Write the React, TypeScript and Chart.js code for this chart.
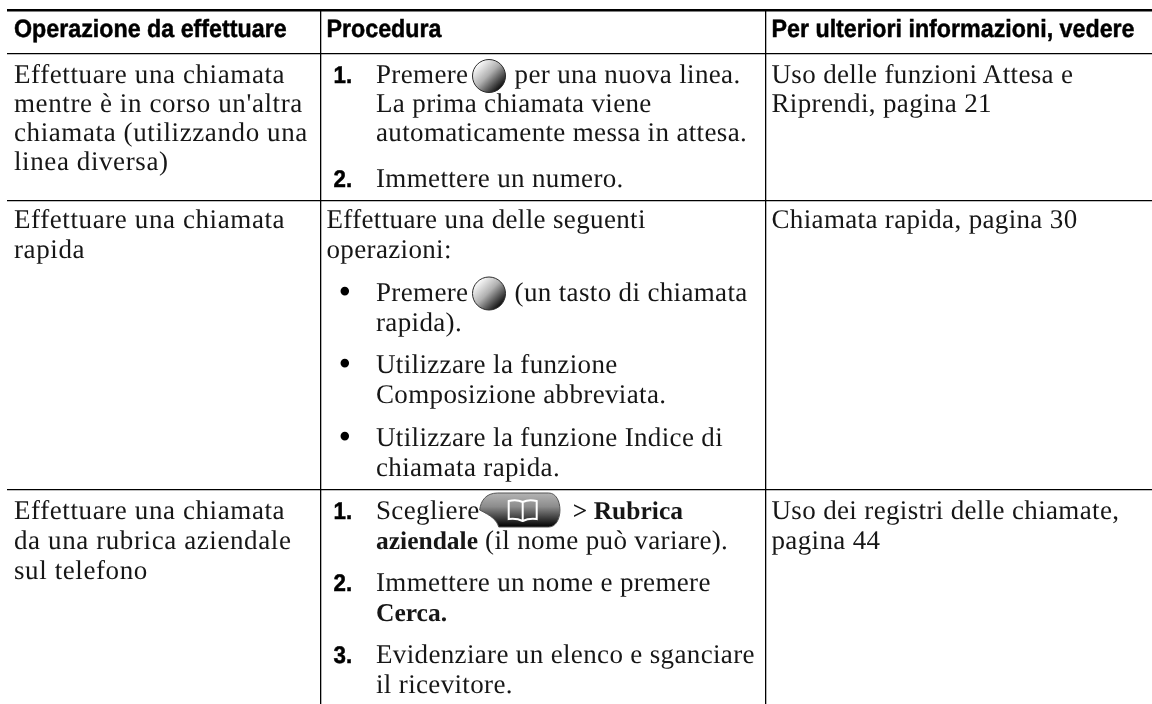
import React, { useEffect, useRef } from "react";
import { Chart, registerables } from "chart.js";

Chart.register(...registerables);

// ---- content -------------------------------------------------------------
const headers = ["Operazione da effettuare", "Procedura", "Per ulteriori informazioni, vedere"];

const operations = [
  ["Effettuare una chiamata", "mentre è in corso un'altra", "chiamata (utilizzando una", "linea diversa)"],
  ["Effettuare una chiamata", "rapida"],
  ["Effettuare una chiamata", "da una rubrica aziendale", "sul telefono"],
];

const references = [
  ["Uso delle funzioni Attesa e", "Riprendi, pagina 21"],
  ["Chiamata rapida, pagina 30"],
  ["Uso dei registri delle chiamate,", "pagina 44"],
];

// "{ball}" and "{book}" are the phone-key pictures, "*...*" is bold text
const procedureRow1 = [
  { marker: "1.", lines: ["Premere {ball} per una nuova linea.", "La prima chiamata viene", "automaticamente messa in attesa."] },
  { marker: "2.", lines: ["Immettere un numero."] },
];
const procedureRow2 = [
  { marker: "", lines: ["Effettuare una delle seguenti", "operazioni:"] },
  { marker: "•", lines: ["Premere {ball} (un tasto di chiamata", "rapida)."] },
  { marker: "•", lines: ["Utilizzare la funzione", "Composizione abbreviata."] },
  { marker: "•", lines: ["Utilizzare la funzione Indice di", "chiamata rapida."] },
];
const procedureRow3 = [
  { marker: "1.", lines: ["Scegliere {book} *> Rubrica*", "*aziendale* (il nome può variare)."] },
  { marker: "2.", lines: ["Immettere un nome e premere", "*Cerca.*"] },
  { marker: "3.", lines: ["Evidenziare un elenco e sganciare", "il ricevitore."] },
];

// ---- table geometry, fed to the chart's scales --------------------------------
const columnEdges = [320.5, 765.5];
const rowEdges = [10, 54, 201, 490];
const firstBaselineOffset = [29, 27, 29];
const rowLineStep = [29, 30, 30];
const rowBlockGap = [46, 42.5, 42];

const SERIF = '"Liberation Serif", serif';
const SANS = '"Liberation Sans", sans-serif';
const INK = "#161616";

function setSpacing(ctx: CanvasRenderingContext2D, px: number) {
  (ctx as any).letterSpacing = `${px}px`;
}

function drawCondensed(ctx: CanvasRenderingContext2D, text: string, x: number, y: number, size: number) {
  ctx.save();
  ctx.translate(x, y);
  ctx.scale(0.93, 1);
  ctx.font = `bold ${size}px ${SANS}`;
  ctx.fillStyle = "#000";
  ctx.strokeStyle = "#000";
  ctx.lineWidth = 0.5;
  ctx.fillText(text, 0, 0);
  ctx.strokeText(text, 0, 0);
  ctx.restore();
}

function drawBall(ctx: CanvasRenderingContext2D, x: number, baseline: number) {
  const r = 17;
  const cx = x + r;
  const cy = baseline - 7;
  const g = ctx.createLinearGradient(cx - r * 0.7, cy - r * 0.7, cx + r * 0.75, cy + r * 0.75);
  g.addColorStop(0, "#ffffff");
  g.addColorStop(0.45, "#b0b0b0");
  g.addColorStop(1, "#000000");
  ctx.beginPath();
  ctx.arc(cx, cy, r - 0.5, 0, Math.PI * 2);
  ctx.fillStyle = g;
  ctx.fill();
  ctx.lineWidth = 1;
  ctx.strokeStyle = "#2a2a2a";
  ctx.stroke();
}

function drawBook(ctx: CanvasRenderingContext2D, x: number, baseline: number) {
  const w = 83;
  const h = 34;
  const y = baseline - 26;
  const g = ctx.createLinearGradient(0, y, 0, y + h);
  g.addColorStop(0, "#b4b4b4");
  g.addColorStop(0.4, "#8c8c8c");
  g.addColorStop(0.75, "#3a3a3a");
  g.addColorStop(1, "#000000");
  ctx.beginPath();
  ctx.moveTo(x, y + 17);
  ctx.bezierCurveTo(x + 1, y + 8, x + 6, y, x + 18, y);
  ctx.lineTo(x + w - 14, y);
  ctx.bezierCurveTo(x + w + 1, y, x + w + 1, y + h, x + w - 14, y + h);
  ctx.lineTo(x + 19, y + h);
  ctx.bezierCurveTo(x + 17, y + 27, x + 12, y + 23, x, y + 17);
  ctx.closePath();
  ctx.fillStyle = g;
  ctx.fill();
  ctx.lineWidth = 1;
  ctx.strokeStyle = "#555";
  ctx.stroke();
  const bx = x + 43;
  ctx.strokeStyle = "#ffffff";
  ctx.lineWidth = 2;
  ctx.beginPath();
  ctx.moveTo(bx, y + 9);
  ctx.quadraticCurveTo(bx - 6, y + 6, bx - 14, y + 8);
  ctx.lineTo(bx - 14, y + 26);
  ctx.quadraticCurveTo(bx - 6, y + 25, bx, y + 28);
  ctx.quadraticCurveTo(bx + 6, y + 25, bx + 14, y + 26);
  ctx.lineTo(bx + 14, y + 8);
  ctx.quadraticCurveTo(bx + 6, y + 6, bx, y + 9);
  ctx.lineTo(bx, y + 28);
  ctx.stroke();
}

function drawRuns(ctx: CanvasRenderingContext2D, source: string, x: number, y: number) {
  const parts = source.split(/(\{ball\}|\{book\}|\*[^*]+\*)/).filter(Boolean);
  let pen = x;
  for (const part of parts) {
    if (part === "{ball}") {
      drawBall(ctx, pen - 3.5, y);
      pen += 32;
    } else if (part === "{book}") {
      drawBook(ctx, pen - 7, y);
      pen += 79;
    } else {
      const bold = part.startsWith("*");
      const text = bold ? part.slice(1, -1) : part;
      ctx.font = bold ? `bold 25.5px ${SERIF}` : `27px ${SERIF}`;
      setSpacing(ctx, bold ? 0 : 0.35);
      ctx.fillStyle = INK;
      ctx.fillText(text, pen, y);
      pen += ctx.measureText(text).width;
    }
  }
  setSpacing(ctx, 0.35);
}

const tablePlugin = {
  id: "tableText",
  afterDraw(chart: any) {
    const ctx: CanvasRenderingContext2D = chart.ctx;
    const yPx = (v: number) => chart.scales.y.getPixelForValue(v);
    const xPx = (v: number) => chart.scales.x.getPixelForValue(v);
    const leftCol = xPx(7) + 7;
    const midCol = xPx(columnEdges[0]) + 6;
    const rightCol = xPx(columnEdges[1]) + 6;
    const numberX = midCol + 7;
    const bulletX = midCol + 12;
    const bodyX = midCol + 49.5;

    ctx.save();
    ctx.textBaseline = "alphabetic";
    (ctx as any).textRendering = "geometricPrecision";
    setSpacing(ctx, 0);

    // header
    [leftCol, midCol, rightCol].forEach((x, i) => drawCondensed(ctx, headers[i], x, yPx(rowEdges[1]) - 17, 25));

    // body
    const rowStarts = [rowEdges[1], rowEdges[2], rowEdges[3]];
    rowStarts.forEach((edge, r) => {
      const first = yPx(edge) + firstBaselineOffset[r];
      ctx.font = `27px ${SERIF}`;
      ctx.fillStyle = INK;
      setSpacing(ctx, 0.6);
      operations[r].forEach((t, i) => ctx.fillText(t, leftCol, first + i * rowLineStep[r]));
      setSpacing(ctx, 0.35);
      references[r].forEach((t, i) => ctx.fillText(t, rightCol, first + i * rowLineStep[r]));
    });

    const blocks = [procedureRow1, procedureRow2, procedureRow3];
    blocks.forEach((row, r) => {
      let y = yPx(rowStarts[r]) + firstBaselineOffset[r];
      row.forEach((block, b) => {
        const plain = block.marker === "";
        if (block.marker === "•") {
          setSpacing(ctx, 0);
          ctx.font = `36px ${SERIF}`;
          ctx.fillStyle = "#000";
          ctx.fillText("•", bulletX, y + 2);
        } else if (!plain) {
          setSpacing(ctx, 0);
          drawCondensed(ctx, block.marker, numberX, y, 24);
        }
        block.lines.forEach((line, i) => {
          drawRuns(ctx, line, plain ? midCol : bodyX, y);
          if (i < block.lines.length - 1) y += rowLineStep[r];
        });
        if (b < row.length - 1) y += rowBlockGap[r];
      });
    });
    ctx.restore();
  },
};

export default function App() {
  const ref = useRef<HTMLCanvasElement>(null);
  useEffect(() => {
    const chart = new Chart(ref.current!, {
      type: "scatter",
      data: { datasets: [] },
      plugins: [tablePlugin],
      options: {
        animation: false,
        responsive: false,
        layout: { padding: { left: 7, top: 10, right: 0, bottom: 0 } },
        plugins: { legend: { display: false }, tooltip: { enabled: false }, title: { display: false } },
        scales: {
          x: {
            type: "linear",
            min: 7,
            max: 1152,
            afterBuildTicks: (s: any) => { s.ticks = columnEdges.map((value) => ({ value })); },
            ticks: { display: false },
            border: { display: false },
            grid: { color: "#000", lineWidth: 1.3, drawTicks: false },
          },
          y: {
            type: "linear",
            reverse: true,
            min: 10,
            max: 704,
            afterBuildTicks: (s: any) => { s.ticks = rowEdges.map((value) => ({ value })); },
            ticks: { display: false },
            border: { display: false },
            grid: {
              color: "#000",
              lineWidth: (c: any) => (c.tick && c.tick.value === rowEdges[0] ? 2.6 : 1.3),
              drawTicks: false,
            },
          },
        },
      },
    });
    return () => chart.destroy();
  }, []);
  return (
    <div style={{ position: "fixed", left: 0, top: 0, width: 1152, height: 704, background: "#fff" }}>
      <canvas ref={ref} width={1152} height={704} style={{ display: "block" }} />
    </div>
  );
}
